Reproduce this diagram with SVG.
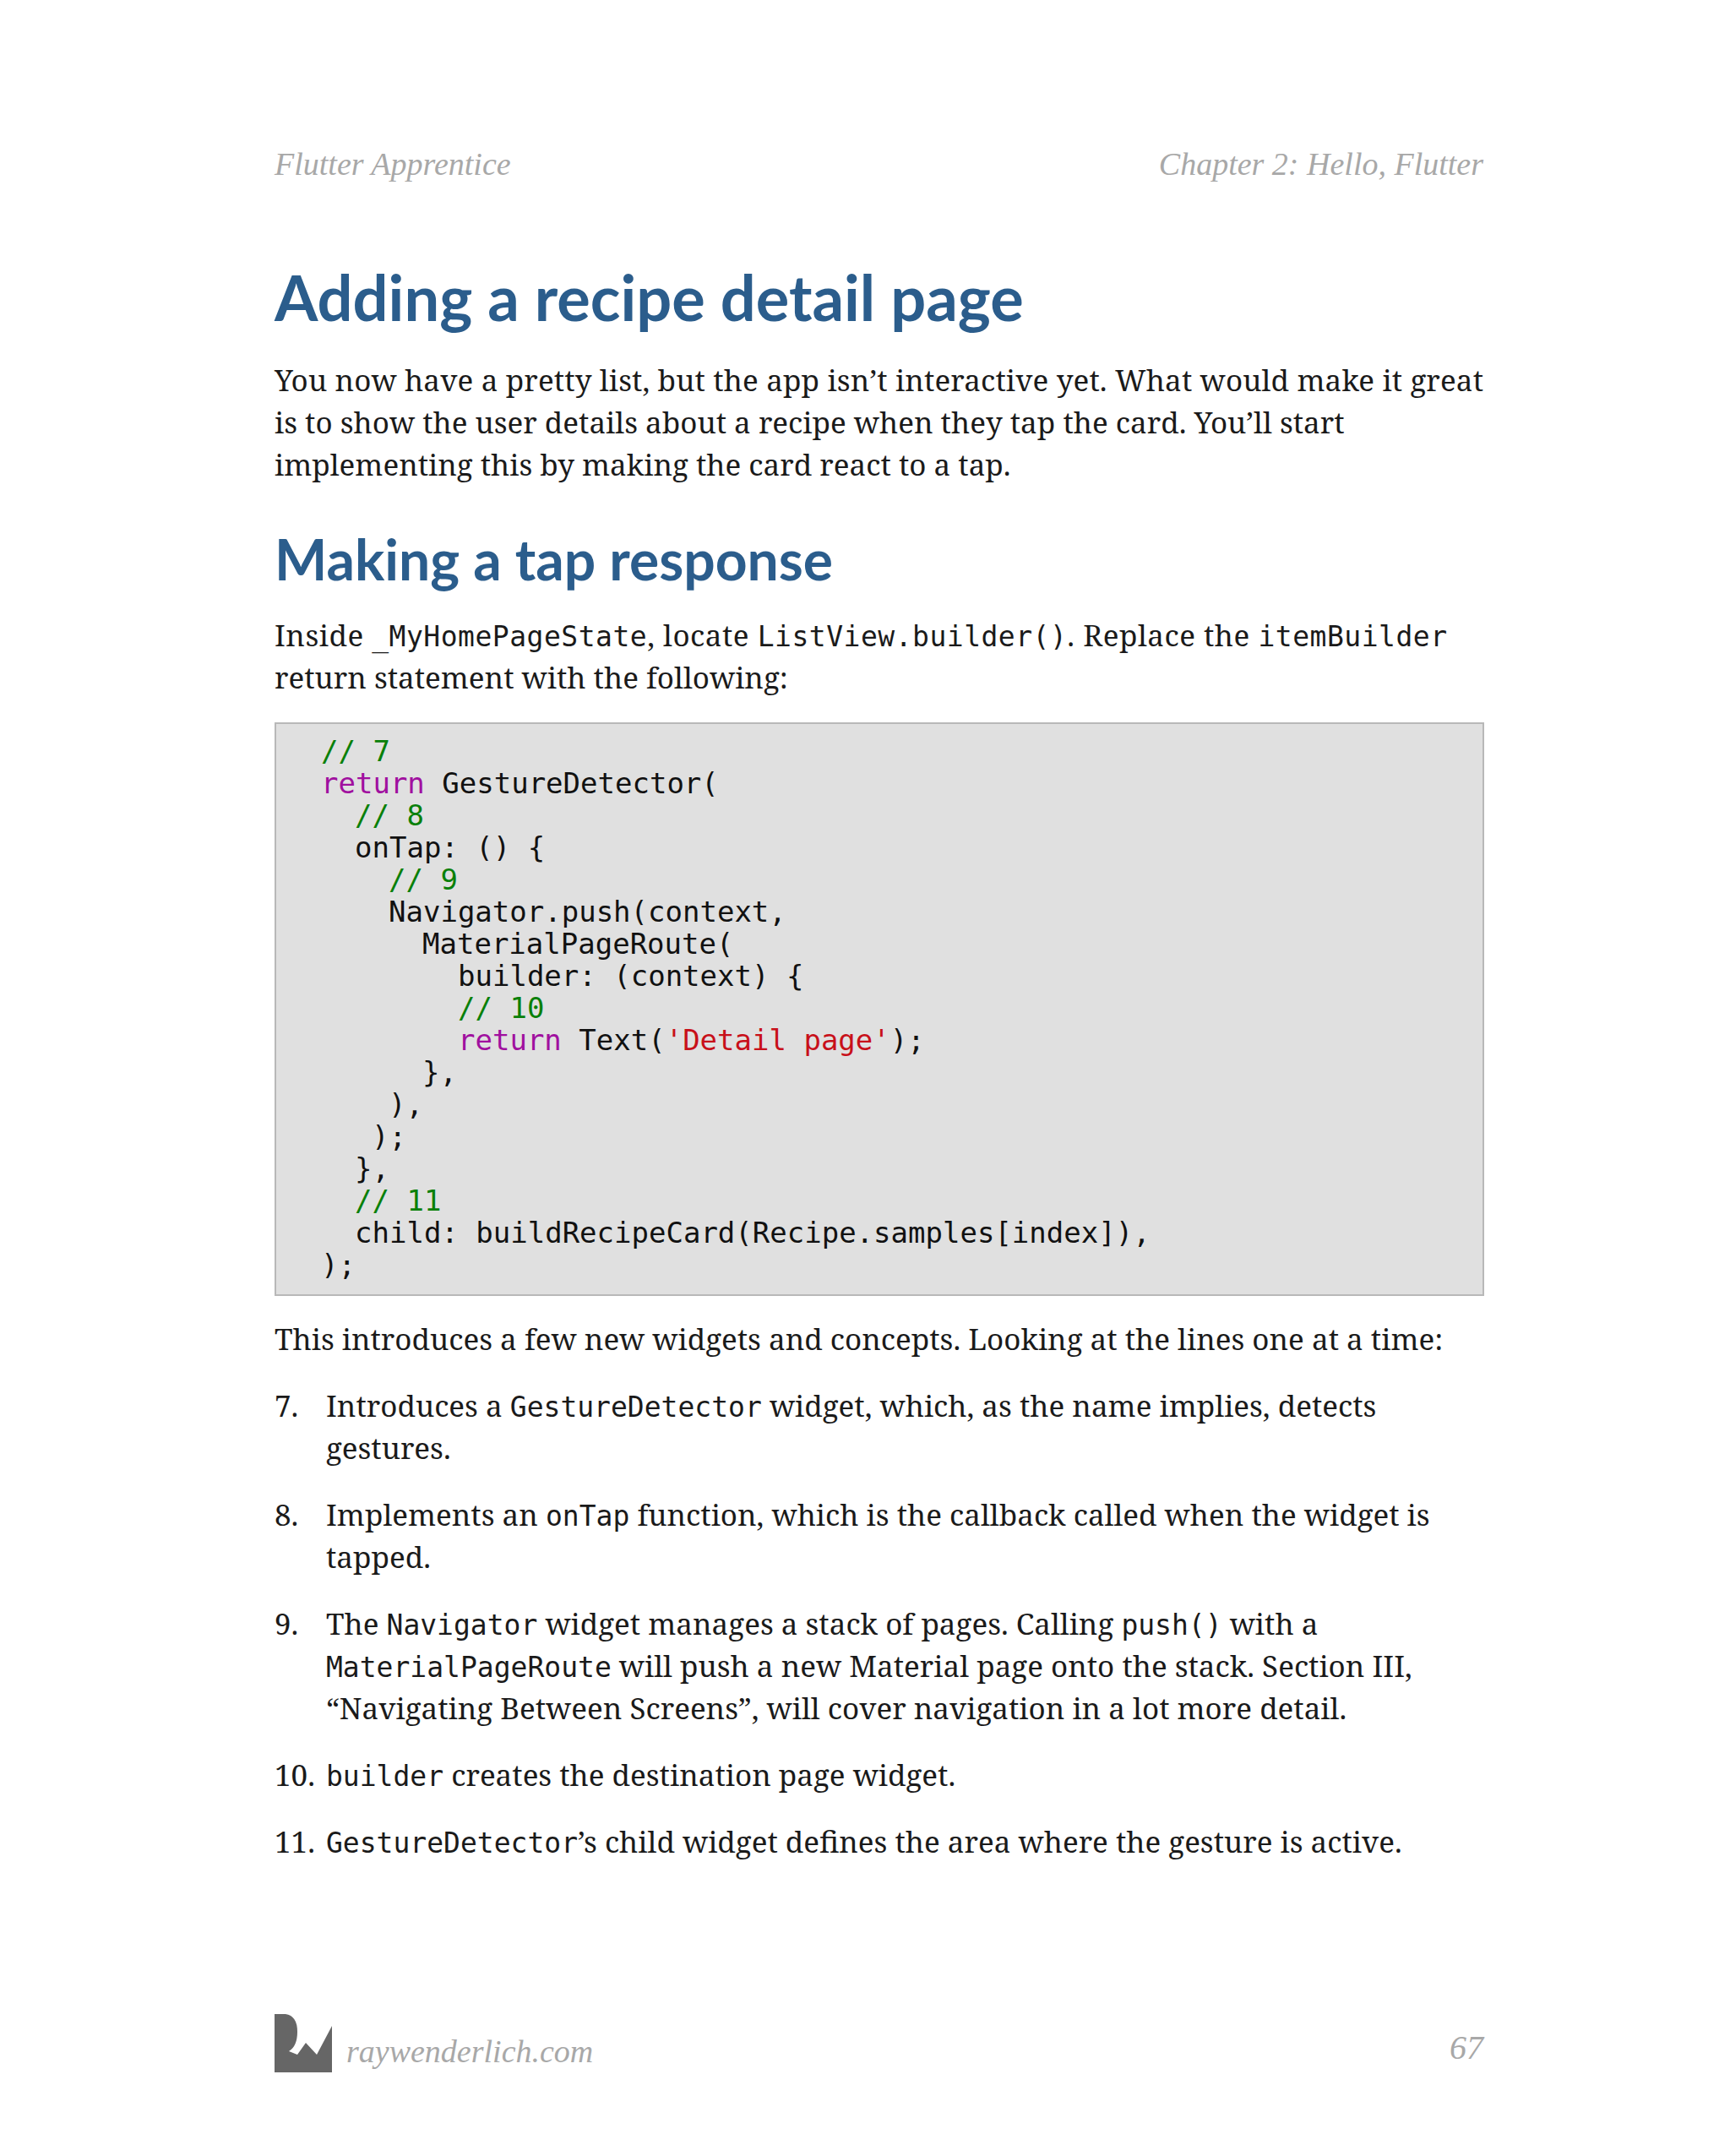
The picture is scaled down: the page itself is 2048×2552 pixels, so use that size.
<svg xmlns="http://www.w3.org/2000/svg" width="2048" height="2552" viewBox="0 0 2048 2552">
<style>
.hd{font-family:"Liberation Serif",serif;font-style:italic;font-size:38px;fill:#a8a8a8}
.h1{font-family:Lato,"Liberation Sans",sans-serif;font-weight:bold;fill:#2b5d8c}
.p{font-family:"Noto Serif","Liberation Serif",serif;font-size:35px;fill:#1a1a1a}
.m{font-family:"DejaVu Sans Mono",monospace;font-size:33px}
.c{font-family:"DejaVu Sans Mono",monospace;font-size:34px;fill:#111}
.cm{fill:#0a800a}.kw{fill:#a0109f}.st{fill:#c8101a}
</style>
<rect width="2048" height="2552" fill="#fff"/>
<g id="header">
<text class="hd" x="325" y="207">Flutter Apprentice</text>
<text class="hd" x="1756" y="207" text-anchor="end">Chapter 2: Hello, Flutter</text>
</g>
<g id="title"><text class="h1" x="325" y="380" font-size="74">Adding a recipe detail page</text></g>
<g id="intro" class="p">
<text x="325" y="463" textLength="1431">You now have a pretty list, but the app isn’t interactive yet. What would make it great</text>
<text x="325" y="513">is to show the user details about a recipe when they tap the card. You’ll start</text>
<text x="325" y="563">implementing this by making the card react to a tap.</text>
</g>
<g id="subtitle"><text class="h1" x="325" y="687" font-size="66">Making a tap response</text></g>
<g id="inside" class="p">
<text x="325" y="765" textLength="1388">Inside <tspan class="m">_MyHomePageState</tspan>, locate <tspan class="m">ListView.builder()</tspan>. Replace the <tspan class="m">itemBuilder</tspan></text>
<text x="325" y="815">return statement with the following:</text>
</g>
<g id="code">
<rect x="326" y="856" width="1430" height="677" fill="#e0e0e0" stroke="#b8b8b8" stroke-width="2"/>
<g class="c">
<text x="380" y="901" class="cm">// 7</text>
<text x="380" y="939"><tspan class="kw">return</tspan> GestureDetector(</text>
<text x="420" y="977" class="cm">// 8</text>
<text x="420" y="1015">onTap: () {</text>
<text x="460" y="1053" class="cm">// 9</text>
<text x="460" y="1091">Navigator.push(context,</text>
<text x="500" y="1129">MaterialPageRoute(</text>
<text x="542" y="1167">builder: (context) {</text>
<text x="542" y="1205" class="cm">// 10</text>
<text x="542" y="1243"><tspan class="kw">return</tspan> Text(<tspan class="st">'Detail page'</tspan>);</text>
<text x="500" y="1281">},</text>
<text x="460" y="1319">),</text>
<text x="440" y="1357">);</text>
<text x="420" y="1395">},</text>
<text x="420" y="1433" class="cm">// 11</text>
<text x="420" y="1471">child: buildRecipeCard(Recipe.samples[index]),</text>
<text x="380" y="1509">);</text>
</g>
</g>
<g id="list" class="p">
<text x="325" y="1598">This introduces a few new widgets and concepts. Looking at the lines one at a time:</text>
<text x="325" y="1677">7.</text>
<text x="386" y="1677">Introduces a <tspan class="m">GestureDetector</tspan> widget, which, as the name implies, detects</text>
<text x="386" y="1727">gestures.</text>
<text x="325" y="1806">8.</text>
<text x="386" y="1806">Implements an <tspan class="m">onTap</tspan> function, which is the callback called when the widget is</text>
<text x="386" y="1856">tapped.</text>
<text x="325" y="1935">9.</text>
<text x="386" y="1935">The <tspan class="m">Navigator</tspan> widget manages a stack of pages. Calling <tspan class="m">push()</tspan> with a</text>
<text x="386" y="1985"><tspan class="m">MaterialPageRoute</tspan> will push a new Material page onto the stack. Section III,</text>
<text x="386" y="2035">“Navigating Between Screens”, will cover navigation in a lot more detail.</text>
<text x="325" y="2114">10.</text>
<text x="386" y="2114"><tspan class="m">builder</tspan> creates the destination page widget.</text>
<text x="325" y="2193">11.</text>
<text x="386" y="2193"><tspan class="m">GestureDetector</tspan>’s child widget defines the area where the gesture is active.</text>
</g>
<g id="footer">
<path d="M325 2384 L338 2384 Q352 2386 352 2405 Q352 2422 342 2428 L352 2432 L362 2418 L375 2432 L393 2398 L393 2453 L325 2453 Z" fill="#666"/>
<text x="410" y="2441" font-family="'Liberation Serif',serif" font-style="italic" font-size="38" fill="#a8a8a8">raywenderlich.com</text>
<text x="1756" y="2437" text-anchor="end" font-family="'Liberation Serif',serif" font-style="italic" font-size="40" fill="#a8a8a8">67</text>
</g>
</svg>
